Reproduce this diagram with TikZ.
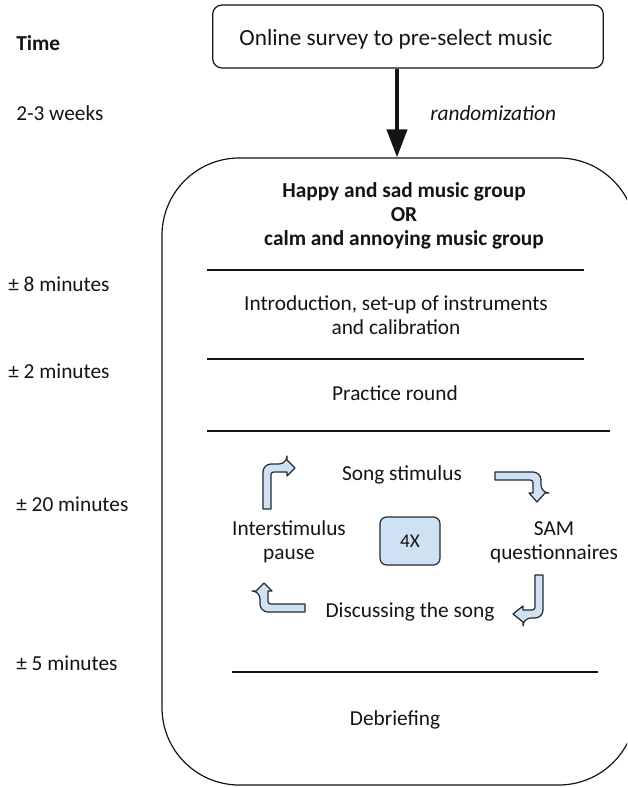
\documentclass[tikz,border=0pt]{standalone}
\usepackage{fontspec}
\setmainfont{Carlito}
\usetikzlibrary{arrows.meta}
\definecolor{boxfill}{RGB}{207,226,243}
\definecolor{boxline}{RGB}{35,40,48}
\definecolor{ink}{RGB}{20,20,20}
\tikzset{
  lbl/.style={font=\fontsize{16}{18}\selectfont, text=ink, inner sep=0pt, align=center},
  timelbl/.style={font=\fontsize{16}{18}\selectfont, text=ink, inner sep=0pt, anchor=west},
  divider/.style={draw=ink, line width=0.9pt},
  bentarrow/.style={fill=boxfill, draw=boxline, line width=0.9pt, line join=round},
}
\begin{document}
\begin{tikzpicture}[x=0.75pt,y=-0.75pt]
\clip (0,0) rectangle (627,787);
% top box
\node[draw=ink, line width=0.9pt, rounded corners=7pt, minimum width=293pt, minimum height=47.25pt, inner sep=0pt] (top) at (408,36.5) {};
\node[lbl, font=\fontsize{17.4}{20}\selectfont] (toptxt) at (396,39) {Online survey to pre-select music};
% main box
\node[draw=ink, line width=0.9pt, rounded corners=58pt, minimum width=355.5pt, minimum height=470.25pt, inner sep=0pt] (main) at (399,471.5) {};
\coordinate (arrx) at (397,0);
\draw[line width=3pt, ink, -{Triangle[width=15pt,length=21pt]}] (top.south -| arrx) -- (main.north -| arrx);
\node[lbl, font=\fontsize{16}{18}\selectfont\itshape, anchor=west] (rand) at (430,113) {randomization};
% time labels
\node[timelbl, font=\fontsize{16}{18}\selectfont\bfseries] (t0) at (16,43) {Time};
\node[timelbl] (t1) at (16,113) {2-3 weeks};
\node[timelbl] (t2) at (8,284) {± 8 minutes};
\node[timelbl] (t3) at (8,371) {± 2 minutes};
\node[timelbl] (t4) at (16,504) {± 20 minutes};
\node[timelbl] (t5) at (16,663) {± 5 minutes};
% contents
\node[lbl, font=\fontsize{16}{18}\selectfont\bfseries] (grp) at (404,216) {Happy and sad music group\\OR\\calm and annoying music group};
\draw[divider] (207,270) -- (584,270);
\node[lbl] (intro) at (396,315) {Introduction, set-up of instruments\\and calibration};
\draw[divider] (207,359) -- (584,359);
\node[lbl] (prac) at (395,393) {Practice round};
\draw[divider] (207,431) -- (610,431);
\node[lbl] (song) at (402,475) {Song stimulus};
\node[lbl] (inter) at (289,542) {Interstimulus\\pause};
\node[lbl] (sam) at (554,542) {SAM\\questionnaires};
\node[lbl] (disc) at (410,612) {Discussing the song};
\node[draw=boxline, fill=boxfill, line width=0.9pt, rounded corners=5pt, minimum width=45pt, minimum height=36pt, inner sep=0pt, lbl, font=\fontsize{14.5}{16}\selectfont] (four) at (410,541) {4X};
\draw[divider] (232,672) -- (598,672);
\node[lbl] (deb) at (395,720) {Debriefing};
% bent arrows
\draw[bentarrow] (263,509) [rounded corners=6pt] -- (263,464) -- (287,464) [sharp corners] -- (287,460) -- (295,468) -- (287,476) -- (287,472) [rounded corners=2pt] -- (271,472) [sharp corners] -- (271,509) -- cycle;
\draw[bentarrow] (495,472) [rounded corners=6pt] -- (541,472) -- (541,493) [sharp corners] -- (545,493) -- (537,502) -- (529,493) -- (533,493) [rounded corners=2pt] -- (533,480) [sharp corners] -- (495,480) -- cycle;
\draw[bentarrow] (535,575) -- (543,575) [rounded corners=6pt] -- (543,618) -- (523,618) [sharp corners] -- (523,622) -- (513,614) -- (523,606) -- (523,610) [rounded corners=2pt] -- (535,610) [sharp corners] -- (535,575) -- cycle;
\draw[bentarrow] (305,604) -- (305,612) [rounded corners=6pt] -- (260,612) -- (260,591) [sharp corners] -- (256,591) -- (264,583) -- (272,591) -- (268,591) [rounded corners=2pt] -- (268,604) [sharp corners] -- (305,604) -- cycle;
\end{tikzpicture}
\end{document}
